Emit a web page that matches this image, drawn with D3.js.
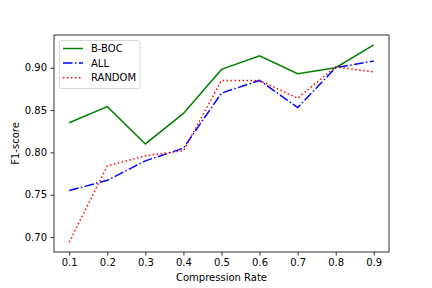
<!DOCTYPE html>
<meta charset="utf-8">
<head>
	<script type="text/javascript" src="https://cdn.jsdelivr.net/npm/d3@7"></script>
	<style>
		body { margin: 0; background: #fff; }
		text { font-family: "DejaVu Sans", sans-serif; fill: #000; }
	</style>
</head>
<body>
	<div id="chart"></div>
	<script>
		// values
		const rates = [0.1, 0.2, 0.3, 0.4, 0.5, 0.6, 0.7, 0.8, 0.9];
		const bboc = [0.835, 0.854, 0.810, 0.846, 0.898, 0.914, 0.893, 0.900, 0.927];
		const all = [0.755, 0.767, 0.790, 0.805, 0.870, 0.885, 0.853, 0.900, 0.908];
		const random = [0.694, 0.784, 0.796, 0.802, 0.885, 0.885, 0.864, 0.901, 0.895];
		const yTicks = [0.70, 0.75, 0.80, 0.85, 0.90];

		const series = [
			{name: "B-BOC", values: bboc, color: "green", dash: null},
			{name: "ALL", values: all, color: "blue", dash: "9.6,2.4,1.5,2.4"},
			{name: "RANDOM", values: random, color: "red", dash: "1.5,2.5"}
		];

		const width = 432, height = 288;
		const mLeft = 54, mRight = 389, mTop = 35, mBottom = 252;

		const svg = d3.select("#chart").append("svg")
			.attr("width", width)
			.attr("height", height);

		// matplotlib style 5% margins
		const x = d3.scaleLinear().domain([0.06, 0.94]).range([mLeft, mRight]);
		const yMin = d3.min(series, s => d3.min(s.values));
		const yMax = d3.max(series, s => d3.max(s.values));
		const pad = (yMax - yMin) * 0.05;
		const y = d3.scaleLinear().domain([yMin - pad, yMax + pad]).range([mBottom, mTop]);

		const xAxis = svg.append("g")
			.attr("transform", `translate(0,${mBottom})`)
			.call(d3.axisBottom(x).tickValues(rates).tickFormat(d3.format(".1f")).tickSize(3.5).tickPadding(3.5));
		const yAxis = svg.append("g")
			.attr("transform", `translate(${mLeft},0)`)
			.call(d3.axisLeft(y).tickValues(yTicks).tickFormat(d3.format(".2f")).tickSize(3.5).tickPadding(3.5));

		[xAxis, yAxis].forEach(a => {
			a.select(".domain").remove();
			a.selectAll("line").attr("stroke", "#000").attr("stroke-width", 0.8);
			a.selectAll("text").attr("font-size", "10px").attr("font-family", "DejaVu Sans");
		});

		// lines
		const line = d3.line()
			.x((d, i) => x(rates[i]))
			.y(d => y(d));

		series.forEach(s => {
			svg.append("path")
				.datum(s.values)
				.attr("d", line)
				.attr("fill", "none")
				.attr("stroke", s.color)
				.attr("stroke-width", 1.5)
				.attr("stroke-dasharray", s.dash);
		});

		// frame
		svg.append("rect")
			.attr("x", mLeft).attr("y", mTop)
			.attr("width", mRight - mLeft).attr("height", mBottom - mTop)
			.attr("fill", "none").attr("stroke", "#000").attr("stroke-width", 0.8);

		// axis labels
		svg.append("text")
			.attr("x", (mLeft + mRight) / 2)
			.attr("y", 281)
			.attr("text-anchor", "middle")
			.attr("font-size", "10px")
			.text("Compression Rate");

		svg.append("text")
			.attr("transform", `translate(19,${(mTop + mBottom) / 2}) rotate(-90)`)
			.attr("text-anchor", "middle")
			.attr("font-size", "10px")
			.text("F1-score");

		// legend
		const legend = svg.append("g");
		legend.append("rect")
			.attr("x", 59.5).attr("y", 40.5)
			.attr("width", 80.5).attr("height", 48)
			.attr("rx", 2)
			.attr("fill", "#fff").attr("fill-opacity", 0.8)
			.attr("stroke", "#ccc").attr("stroke-width", 0.8);

		series.forEach((s, i) => {
			const ly = 48.5 + i * 14.6;
			legend.append("line")
				.attr("x1", 63).attr("x2", 83)
				.attr("y1", ly).attr("y2", ly)
				.attr("stroke", s.color)
				.attr("stroke-width", 1.5)
				.attr("stroke-dasharray", s.dash);
			legend.append("text")
				.attr("x", 91)
				.attr("y", ly + 3.6)
				.attr("font-size", "10px")
				.text(s.name);
		});
	</script>
</body>
